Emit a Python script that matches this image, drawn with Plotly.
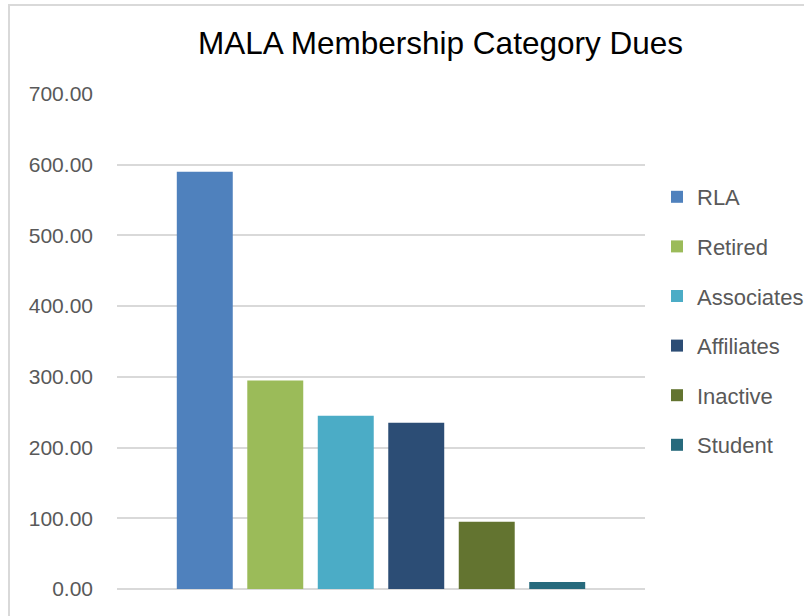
import plotly.graph_objects as go

categories = ["RLA", "Retired", "Associates", "Affiliates", "Inactive", "Student"]
dues = [590, 295, 245, 235, 95, 10]
colors = ["#4F81BD", "#9BBB59", "#4BACC6", "#2C4D75", "#637430", "#276A7C"]
y_ticks = [0, 100, 200, 300, 400, 500, 600, 700]

W, H = 804, 616
ML, MR, MT, MB = 117, 159, 94, 27
PW, PH = W - ML - MR, H - MT - MB

def px_x(px):
    return (px - ML) / PW

def px_y(py):
    return (H - MB - py) / PH

fig = go.Figure()
for name, val, col in zip(categories, dues, colors):
    fig.add_trace(go.Bar(
        x=["Dues"], y=[val], name=name, marker_color=col,
        marker_line_width=0, legendgroup=name,
    ))

fig.update_layout(
    width=W, height=H,
    margin=dict(l=ML, r=MR, t=MT, b=MB, pad=0, autoexpand=False),
    paper_bgcolor="white", plot_bgcolor="white",
    barmode="group", bargap=0.199, bargroupgap=0.206,
    title=dict(text="MALA Membership Category Dues", x=440.5 / W, xanchor="center",
               y=1 - 43 / H, yanchor="middle",
               font=dict(family="Liberation Sans, Arial, sans-serif", size=31.5, color="#000000")),
    font=dict(family="Liberation Sans, Arial, sans-serif", color="#595959"),
    legend=dict(xref="container", yref="container", x=657 / W, y=1 - 176 / H,
                xanchor="left", yanchor="top",
                font=dict(size=22, color="#595959"), tracegroupgap=18,
                bgcolor="rgba(0,0,0,0)", itemclick=False),
    showlegend=True,
)
fig.update_xaxes(showticklabels=False, showgrid=False, zeroline=False, showline=False, ticks="")
fig.update_yaxes(range=[0, 700], tickvals=y_ticks, tickformat=".2f", automargin=False,
                 showgrid=True, gridcolor="#d9d9d9", gridwidth=1.5,
                 zeroline=True, zerolinecolor="#d9d9d9", zerolinewidth=1.5,
                 showline=False, ticks="", ticklabelstandoff=23,
                 tickfont=dict(size=21, color="#595959"))

fig.add_shape(type="rect", xref="paper", yref="paper",
              x0=px_x(9), x1=px_x(830), y0=px_y(640), y1=px_y(5),
              line=dict(color="#d9d9d9", width=2), fillcolor="rgba(0,0,0,0)", layer="below")

fig.write_html("out.html", config={"displayModeBar": False},
               post_script="document.body.style.margin='0';document.body.style.overflow='hidden';")
